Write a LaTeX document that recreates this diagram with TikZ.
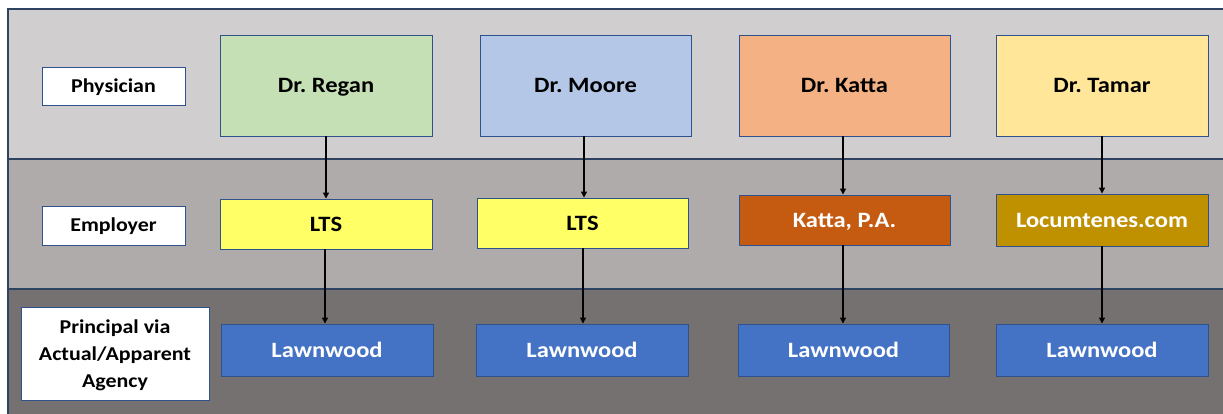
\documentclass[tikz,border=0pt]{standalone}
\usepackage{fontspec}
\setmainfont{Carlito}[FakeStretch=1.12]
\usetikzlibrary{arrows.meta}
\definecolor{bandA}{HTML}{D0CECE}
\definecolor{bandB}{HTML}{AFABAB}
\definecolor{bandC}{HTML}{767171}
\definecolor{bandline}{HTML}{2E4261}
\definecolor{boxline}{HTML}{2F528F}
\definecolor{cRegan}{HTML}{C5E0B4}
\definecolor{cMoore}{HTML}{B4C7E7}
\definecolor{cKatta}{HTML}{F4B183}
\definecolor{cTamar}{HTML}{FFE699}
\definecolor{cLTS}{HTML}{FFFF66}
\definecolor{cKPA}{HTML}{C55A11}
\definecolor{cLocum}{HTML}{BF9000}
\definecolor{cLawn}{HTML}{4472C4}
\frenchspacing
\begin{document}
\begin{tikzpicture}[x=1pt,y=-1pt,
  band/.style={draw=bandline,line width=1.3pt},
  lblfont/.style={font=\fontsize{19.6}{27}\selectfont\bfseries},
  lbl/.style={draw=boxline,line width=0.9pt,fill=white,align=center,lblfont,inner sep=0pt},
  onelbl/.style={lbl,text height=12.6pt,text depth=0pt},
  mainbox/.style={draw=boxline,line width=0.9pt,minimum width=211pt,align=center,
    font=\fontsize{21.9}{26}\selectfont\bfseries,inner sep=0pt,
    text height=14.1pt,text depth=0pt},
  arr/.style={line width=1.3pt,-{Triangle[width=6pt,length=6pt]}}]
\useasboundingbox (0,0) rectangle (1223,414);
\fill[white] (0,0) rectangle (1223,414);
\draw[band,fill=bandA] (8,9) -- (1230,9) -- (1230,159) -- (8,159) -- cycle;
\draw[band,fill=bandB] (8,159) -- (1230,159) -- (1230,289) -- (8,289) -- cycle;
\draw[band,fill=bandC] (8,289) -- (1230,289) -- (1230,420) -- (8,420) -- cycle;
% labels
\node[onelbl,minimum width=143pt,minimum height=38pt] (lphys) at (113.5,86) {Physician};
\node[onelbl,minimum width=143pt,minimum height=39pt] (lemp) at (113.5,225.5) {Employer};
\node[lbl,minimum width=188pt,minimum height=93pt] (lprin) at (115,353.5) {};
\node[lblfont,align=center,inner sep=0pt] (lprintext) at ([yshift=-2pt]lprin.center) {Principal via\\Actual/Apparent\\Agency};
% physicians
\node[mainbox,fill=cRegan,minimum width=212pt,minimum height=101pt] (regan) at (326,85.5) {Dr. Regan};
\node[mainbox,fill=cMoore,minimum height=101pt] (moore) at (585.5,85.5) {Dr. Moore};
\node[mainbox,fill=cKatta,minimum height=101pt] (katta) at (844.5,85.5) {Dr. Katta};
\node[mainbox,fill=cTamar,minimum width=212pt,minimum height=101pt] (tamar) at (1102,85.5) {Dr. Tamar};
% employers
\node[mainbox,fill=cLTS,minimum width=212pt,minimum height=50pt] (lts1) at (326,224) {LTS};
\node[mainbox,fill=cLTS,minimum height=50pt] (lts2) at (582.5,223) {LTS};
\node[mainbox,fill=cKPA,text=white,minimum height=50pt] (kpa) at (844.5,220) {Katta, P.A.};
\node[mainbox,fill=cLocum,text=white,minimum width=212pt,minimum height=52pt] (locum) at (1102,220) {Locumtenes.com};
% principals
\node[mainbox,fill=cLawn,text=white,minimum width=212pt,minimum height=52pt] (lw1) at (327,350) {Lawnwood};
\node[mainbox,fill=cLawn,text=white,minimum width=212pt,minimum height=52pt] (lw2) at (582,350) {Lawnwood};
\node[mainbox,fill=cLawn,text=white,minimum height=52pt] (lw3) at (843.5,350) {Lawnwood};
\node[mainbox,fill=cLawn,text=white,minimum width=212pt,minimum height=52pt] (lw4) at (1102,350) {Lawnwood};
% arrows
\draw[arr] (regan.south) -- (regan.south |- lts1.north);
\draw[arr] ([xshift=-1.5pt]moore.south) -- ([xshift=-1.5pt]moore.south |- lts2.north);
\draw[arr] ([xshift=-1.5pt]katta.south) -- ([xshift=-1.5pt]katta.south |- kpa.north);
\draw[arr] (tamar.south) -- (tamar.south |- locum.north);
\draw[arr] ([xshift=-1pt]lts1.south) -- ([xshift=-1pt]lts1.south |- lw1.north);
\draw[arr] ([xshift=0.5pt]lts2.south) -- ([xshift=0.5pt]lts2.south |- lw2.north);
\draw[arr] ([xshift=-1.5pt]kpa.south) -- ([xshift=-1.5pt]kpa.south |- lw3.north);
\draw[arr] (locum.south) -- (locum.south |- lw4.north);
\end{tikzpicture}
\end{document}
